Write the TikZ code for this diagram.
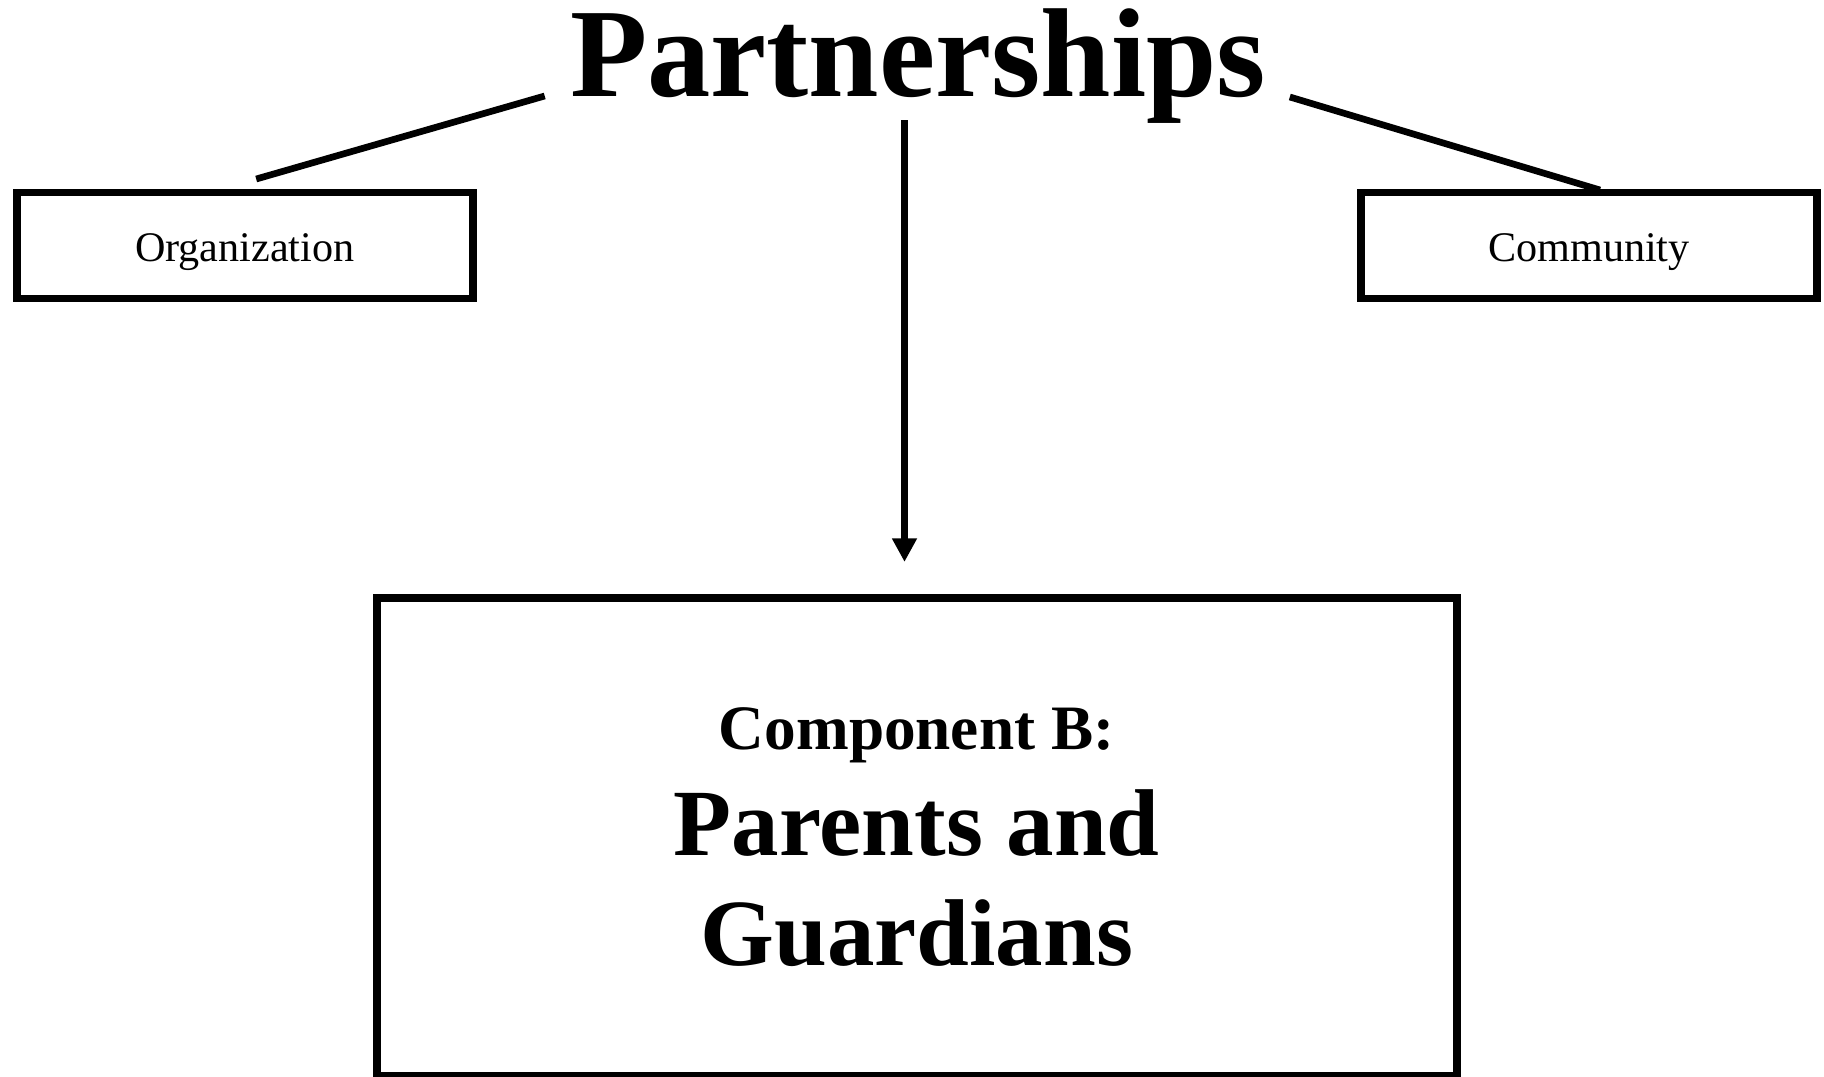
\documentclass[tikz,border=0pt]{standalone}
\usepackage{fontspec}
\setmainfont{Liberation Serif}
\usepackage{tikz}
\usetikzlibrary{positioning, arrows.meta, calc}

\begin{document}
\begin{tikzpicture}[
		title/.style={inner sep=0pt, font=\fontsize{72}{80}\selectfont\bfseries},
		sidebox/.style={draw, rectangle, line width=4.5pt, minimum width=9.12cm, minimum height=2.12cm, text height=0.84cm, text depth=0.18cm, font=\fontsize{24}{28}\selectfont},
		bigbox/.style={draw, rectangle, line width=4.5pt, minimum width=21.6cm, minimum height=9.57cm, align=center, font=\fontsize{54}{62.6}\selectfont\bfseries},
		link/.style={line width=3.8pt},
		arrow/.style={-{Triangle[length=0.47cm, width=0.47cm]}, line width=4.3pt}
		]
		\useasboundingbox (0, 0) rectangle (36.48, 21.54);
		
		% Title
		\node[title, anchor=base] (title) at (18.36, 19.6) {Partnerships};
		
		% Side boxes
		\node[sidebox] (org) at (4.894, 16.63) {Organization};
		\node[sidebox] (com) at (31.78, 16.63) {Community};
		
		% Main box
		\node[bigbox] (parents) at (18.334, 4.797) {{\fontsize{36}{41}\selectfont Component B:}\\[-2.8pt]Parents and\\Guardians};
		
		\draw[link] ([xshift=-0.5cm, yshift=0.02cm]title.base west) -- ([xshift=0.23cm, yshift=0.19cm]org.north);
		\draw[link] ([xshift=0.47cm]title.base east) -- ([xshift=0.22cm, yshift=-0.03cm]com.north);
		\draw[arrow] ([xshift=-0.27cm, yshift=0.08cm]title.south) -- ([xshift=-0.244cm, yshift=0.64cm]parents.north);
	\end{tikzpicture}
\end{document}
